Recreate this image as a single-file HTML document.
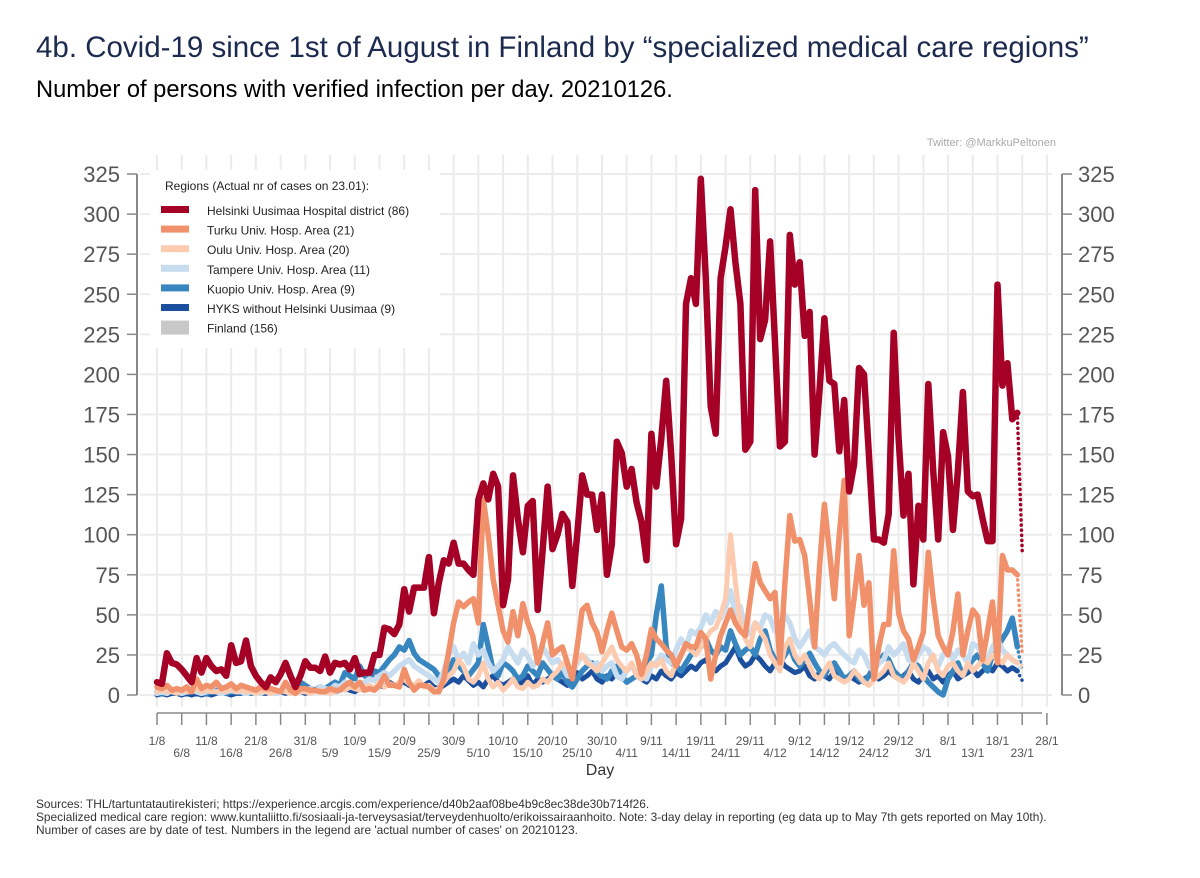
<!DOCTYPE html>
<html><head><meta charset="utf-8"><style>
body{margin:0;background:#fff;font-family:"Liberation Sans",Arial,sans-serif}
svg text{font-family:"Liberation Sans",Arial,sans-serif}
</style></head><body>
<svg id="chart" width="1200" height="873" viewBox="0 0 1200 873" xmlns="http://www.w3.org/2000/svg">
<rect width="1200" height="873" fill="#fff"/>
<text x="36" y="57" font-size="29.5" fill="#1b2a4e">4b. Covid-19 since 1st of August in Finland by “specialized medical care regions”</text>
<text x="36" y="97" font-size="23.7" fill="#000">Number of persons with verified infection per day. 20210126.</text>
<text x="1056" y="146" font-size="11" fill="#aaa" text-anchor="end">Twitter: @MarkkuPeltonen</text>
<g id="grid"></g>
<g id="axes"></g>
<g id="series"></g>
<g id="legend"></g>
<text x="600" y="775" font-size="16" fill="#333" text-anchor="middle">Day</text>
<g font-size="11.9" fill="#333">
<text x="36" y="808">Sources: THL/tartuntatautirekisteri; https://experience.arcgis.com/experience/d40b2aaf08be4b9c8ec38de30b714f26.</text>
<text x="36" y="821">Specialized medical care region: www.kuntaliitto.fi/sosiaali-ja-terveysasiat/terveydenhuolto/erikoissairaanhoito. Note: 3-day delay in reporting (eg data up to May 7th gets reported on May 10th).</text>
<text x="36" y="834">Number of cases are by date of test. Numbers in the legend are 'actual number of cases' on 20210123.</text>
</g>
</svg>
<script>
const tickLabels = ["1/8","6/8","11/8","16/8","21/8","26/8","31/8","5/9","10/9","15/9","20/9","25/9","30/9","5/10","10/10","15/10","20/10","25/10","30/10","4/11","9/11","14/11","19/11","24/11","29/11","4/12","9/12","14/12","19/12","24/12","29/12","3/1","8/1","13/1","18/1","23/1","28/1"];
const yTicks = [0,25,50,75,100,125,150,175,200,225,250,275,300,325];
const seriesNames = ["HYKS without Helsinki Uusimaa","Kuopio Univ. Hosp. Area","Tampere Univ. Hosp. Area","Oulu Univ. Hosp. Area","Turku Univ. Hosp. Area","Helsinki Uusimaa Hospital district"];
const hyks = [0,1,0,1,1,0,1,0,1,0, 1,0,1,2,1,0,1,1,2,1, 2,1,1,2,1,2,1,2,3,2, 1,2,3,2,2,3,2,3,4,3, 2,4,3,5,4,6,5,8,6,7, 8,6,5,7,6,8,5,4,6,8, 10,8,12,9,6,8,5,10,12,8, 6,8,10,7,8,12,6,10,8,10, 12,10,8,6,10,14,10,12,15,10, 8,12,10,14,12,8,10,12,10,8, 12,10,15,12,10,14,12,15,18,16, 20,22,18,15,18,20,25,30,22,18, 20,25,22,18,15,20,22,18,16,14, 15,18,12,10,14,12,10,15,12,10, 12,10,8,10,12,14,10,12,15,12, 10,12,15,10,8,12,15,10,12,8, 12,15,10,12,14,16,12,15,18,15, 20,18,15,17,15,9];
const kuopio = [2,1,2,3,2,1,2,2,3,2, 1,2,3,2,1,2,2,3,2,1, 2,3,2,4,3,2,5,4,3,8, 6,4,3,5,4,6,8,6,14,12, 10,18,12,10,15,14,18,22,25,30, 28,34,26,22,20,18,16,12,10,14, 22,18,15,12,16,20,44,30,15,12, 20,18,15,10,12,18,15,12,20,16, 12,10,14,8,5,10,15,18,20,14, 12,10,15,18,12,8,10,12,15,20, 25,50,68,30,20,18,15,20,25,28, 30,35,28,25,30,28,40,32,25,28, 30,25,35,40,28,22,20,25,30,22, 18,22,26,20,15,12,18,20,15,10, 12,15,10,8,12,18,20,25,22,15, 12,10,15,20,18,12,8,5,2,0, 10,15,20,12,18,22,25,20,15,25, 30,35,40,48,30,15];
const tampere = [1,2,1,3,2,1,2,3,2,1, 2,3,2,1,2,3,2,2,1,2, 2,1,3,2,1,2,3,2,3,2, 3,4,2,5,4,3,6,5,8,6, 7,6,8,10,9,12,14,12,15,18, 20,22,18,16,14,12,10,8,15,25, 30,22,26,20,32,25,28,20,15,18, 22,30,25,20,28,24,18,22,30,25, 20,22,18,12,15,20,25,22,18,20, 15,18,20,12,10,15,18,14,12,10, 18,20,25,22,20,28,35,30,40,38, 42,50,45,52,48,55,65,50,55,40, 38,45,42,50,48,40,42,50,45,35, 30,35,40,30,28,25,30,32,28,25, 22,20,28,25,18,15,20,22,30,25, 28,32,22,20,25,30,28,22,18,25, 30,22,28,25,20,32,30,25,22,30, 35,28,25,22,20,15];
const oulu = [2,3,2,2,1,3,2,2,4,2, 3,2,2,3,2,4,2,3,2,2, 1,2,2,1,2,3,2,1,2,2, 2,1,2,3,2,1,2,4,3,5, 4,3,5,6,4,8,5,7,6,8, 10,7,6,9,5,6,3,4,8,12, 15,22,18,10,8,12,20,10,5,8, 3,6,10,5,4,8,5,6,10,8, 12,15,20,18,15,22,25,20,18,15, 20,25,30,22,18,15,20,12,10,15, 20,18,22,15,12,20,25,30,28,25, 30,35,40,42,50,60,100,70,45,35, 30,45,40,35,25,20,15,30,35,25, 20,25,18,12,10,15,20,12,10,8, 10,15,12,8,6,10,12,15,20,12, 10,8,12,20,15,10,20,25,15,12, 18,20,15,12,20,15,18,22,20,25, 22,20,25,22,20,18];
const turku = [5,4,6,3,4,3,5,2,10,4, 6,5,8,4,5,7,4,6,5,4, 3,5,4,4,3,2,8,3,1,4, 4,3,3,2,2,4,3,3,6,8, 5,8,3,4,3,6,12,6,6,5, 16,8,3,6,6,5,2,2,10,27, 45,58,55,58,60,45,122,100,72,56, 40,33,52,37,57,45,37,20,32,45, 25,28,30,20,10,30,53,56,45,39, 27,40,51,40,30,28,32,25,13,25, 41,35,32,28,25,18,25,32,30,30, 39,35,10,25,37,45,53,45,40,37, 60,82,70,65,60,64,20,70,112,96, 97,87,60,30,80,119,90,60,100,134, 37,60,87,56,70,10,30,44,44,90, 51,40,35,22,30,39,89,60,37,30, 25,40,63,25,40,53,49,22,40,58, 20,87,78,78,75,25];
const helsinki = [8,7,26,20,19,16,12,8,23,14, 23,18,15,16,12,31,20,21,34,18, 12,8,5,11,8,13,20,12,5,12, 21,17,17,15,24,14,20,19,20,16, 23,13,14,14,25,25,42,41,38,44, 66,52,67,67,67,86,51,70,84,82, 95,82,82,78,75,122,132,122,138,130, 56,72,137,110,89,118,121,53,90,130, 91,100,113,108,68,100,137,125,125,103, 125,75,94,158,151,130,141,120,108,84, 163,130,160,196,150,94,110,244,260,244, 322,260,180,163,260,280,303,270,244,153, 158,315,222,234,283,220,155,158,287,256, 270,224,239,150,190,235,196,194,152,184, 127,144,204,200,150,97,97,95,113,226, 160,112,138,69,118,97,194,140,97,164, 149,103,140,189,127,124,125,110,96,96, 256,193,207,172,176,90];
const legendLabels = ["Helsinki Uusimaa Hospital district (86)","Turku Univ. Hosp. Area (21)","Oulu Univ. Hosp. Area (20)","Tampere Univ. Hosp. Area (11)","Kuopio Univ. Hosp. Area (9)","HYKS without Helsinki Uusimaa (9)","Finland (156)"];

const NS="http://www.w3.org/2000/svg";
const X0=157, DX=4.944, Y0=695, DY=1.603;
function xs(d){return X0+d*DX;}
function ys(v){return Y0-v*DY;}
function mk(tag,attrs,parent){const e=document.createElementNS(NS,tag);for(const k in attrs)e.setAttribute(k,attrs[k]);parent.appendChild(e);return e;}
const grid=document.getElementById('grid'),axes=document.getElementById('axes'),ser=document.getElementById('series'),leg=document.getElementById('legend');

yTicks.forEach(v=>{
  const l=mk('line',{x1:140,x2:1052,y1:ys(v),y2:ys(v),stroke:'#ebebeb','stroke-width':2},grid);
  
  
  const t1=mk('line',{x1:127,x2:137,y1:ys(v),y2:ys(v),stroke:'#888','stroke-width':1.5},axes);
  
  
  const t2=mk('line',{x1:1062,x2:1072,y1:ys(v),y2:ys(v),stroke:'#888','stroke-width':1.5},axes);
  
  
  const a=mk('text',{x:120,y:ys(v)+8,'font-size':22,fill:'#555','text-anchor':'end'},axes);a.textContent=v;
  
  
  const b=mk('text',{x:1078,y:ys(v)+8,'font-size':22,fill:'#555'},axes);b.textContent=v;
  
  
});
tickLabels.forEach((lab,i)=>{
  const d=i*5;
  const g=mk('line',{x1:xs(d),x2:xs(d),y1:155,y2:707,stroke:'#ebebeb','stroke-width':2},grid);
  
  
  const t=mk('line',{x1:xs(d),x2:xs(d),y1:713,y2:725,stroke:'#888','stroke-width':1.5},axes);
  
  
  const tx=mk('text',{x:xs(d),y:(i%2===0)?745:757,'font-size':12,fill:'#555','text-anchor':'middle'},axes);tx.textContent=lab;
  
  
});
const ax1=mk('line',{x1:137,x2:137,y1:ys(325),y2:ys(0),stroke:'#888','stroke-width':2},axes);


const ax2=mk('line',{x1:1062,x2:1062,y1:ys(325),y2:ys(0),stroke:'#888','stroke-width':2},axes);


const ax3=mk('line',{x1:xs(0),x2:1042,y1:713,y2:713,stroke:'#888','stroke-width':1.5},axes);



const seriesData=[hyks,kuopio,tampere,oulu,turku,helsinki];
const colors=['#1c4f9e','#3886bf','#c7dcef','#fdcbb0','#f0916b','#a50026'];
const widths=[5,5.5,5.5,5,5.5,6.5];
const snames=['series-hyks','series-kuopio','series-tampere','series-oulu','series-turku','series-helsinki'];
seriesData.forEach((arr,k)=>{
  const n=arr.length;
  let d='';
  for(let i=0;i<n-1;i++)d+=(i?'L':'M')+xs(i).toFixed(1)+','+ys(arr[i]).toFixed(1);
  const p=mk('path',{d:d,fill:'none',stroke:colors[k],'stroke-width':widths[k],'stroke-linejoin':'round','stroke-linecap':'round'},ser);
  
  
  const dd='M'+xs(n-2).toFixed(1)+','+ys(arr[n-2]).toFixed(1)+'L'+xs(n-1).toFixed(1)+','+ys(arr[n-1]).toFixed(1);
  const q=mk('path',{d:dd,fill:'none',stroke:colors[k],'stroke-width':3.5,'stroke-dasharray':'0.1 5','stroke-linecap':'round'},ser);
  
  
});

const box=mk('rect',{x:150,y:170,width:290,height:178,fill:'#fff'},leg);


const lt=mk('text',{x:165,y:190,'font-size':12,fill:'#222'},leg);lt.textContent='Regions (Actual nr of cases on 23.01):';


const lcolors=['#a50026','#f0916b','#fdcbb0','#c7dcef','#3886bf','#1c4f9e','#c8c8c8'];
legendLabels.forEach((lab,i)=>{
  const y=211+i*19.6;
  const g=mk('g',{},leg);
  
  
  mk('rect',{x:161,y:y-(i===6?8:5),width:28,height:(i===6?14:7),fill:lcolors[i]},g);
  const t=mk('text',{x:207,y:y+4,'font-size':12,fill:'#222'},g);t.textContent=lab;
});
</script>
</body></html>
